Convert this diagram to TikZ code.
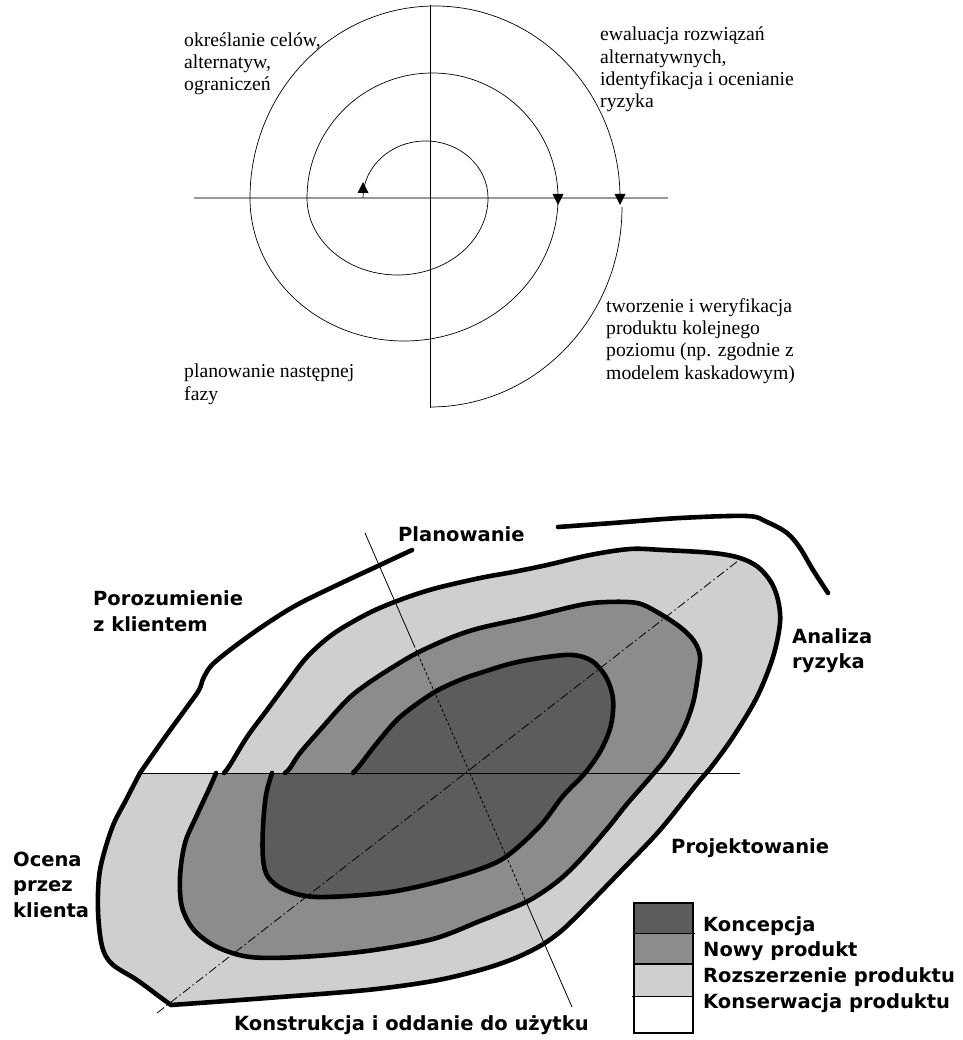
\documentclass[tikz,border=0pt]{standalone}
\usepackage{fontspec}
\setmainfont{Liberation Serif}
\newfontfamily\boldsans{DejaVu Sans Bold}
\usetikzlibrary{calc}
\definecolor{shadeLight}{gray}{0.81}
\definecolor{shadeMid}{gray}{0.55}
\definecolor{shadeDark}{gray}{0.36}
\definecolor{axisGray}{gray}{0.6}

% spiral laps of the lower figure (outer edges of the shaded bands)
\def\lapzero{plot[smooth,tension=.55] coordinates {(353,773) (360,765) (377,743) (400,717) (433,693) (460,680) (480,673) (513,663) (547,657) (573,655) (592,661) (606,677) (613,699) (611,725) (601,750) (585,773) (563,796) (540,826) (507,856) (480,869) (433,883) (383,893) (317,897) (285,890) (268,877) (263,858) (263,827) (266,795) (272,773)}}
\def\lapone{plot[smooth,tension=.55] coordinates {(285,773) (290,768) (300,753) (320,730) (347,700) (367,684) (393,667) (417,653) (450,638) (480,628) (530,617) (580,605) (607,602) (637,603) (657,612) (680,627) (694,641) (700,656) (698,675) (693,703) (683,730) (667,757) (648,780) (627,804) (607,829) (580,860) (558,881) (530,900) (500,913) (480,921) (433,939) (367,951) (300,957) (250,957) (217,947) (194,930) (182,907) (180,877) (185,843) (197,815) (210,787) (216,773)}}
\def\laptwo{plot[smooth,tension=.55] coordinates {(224,773) (230,765) (247,737) (267,710) (287,683) (307,657) (333,634) (367,614) (397,601) (433,589) (480,578) (513,572) (547,565) (590,555) (630,549) (663,550) (713,553) (740,558) (758,567) (771,582) (778,600) (780,623) (773,657) (757,697) (733,737) (712,766) (696,785) (660,830) (620,872) (580,913) (560,932) (540,946) (513,959) (480,970) (433,981) (367,990) (267,998) (171,1005)} -- plot[smooth,tension=.55] coordinates {(171,1005) (160,997) (137,980) (112,964) (102,946) (98,910) (100,870) (112,828) (126,800) (140,773)}}

% multi-line labels are placed by the baseline of their last line
\tikzset{
  serifnote/.style={anchor=base west, inner sep=0pt, align=left, font=\fontsize{19.7}{22.2}\selectfont},
  sansnote/.style={anchor=base west, inner sep=0pt, align=left, font=\boldsans\fontsize{19.5}{25.5}\selectfont},
  thinline/.style={line width=0.8pt},
  lapline/.style={line width=4.6pt, line cap=round, line join=round},
  uptip/.pic={\fill (0,-6) -- (-5.5,5) -- (5.5,5) -- cycle;},
  downtip/.pic={\fill (0,5.5) -- (-5.5,-5.5) -- (5.5,-5.5) -- cycle;},
}

\begin{document}
\begin{tikzpicture}[x=1pt,y=-1pt]
\useasboundingbox (0,0) rectangle (962,1040);

% ---------- upper figure: classic spiral ----------
\coordinate (hl) at (194,198);
\coordinate (hr) at (668,198);
\coordinate (vt) at (430,5);
\coordinate (vb) at (430,408);
\draw[axisGray, line width=1.6pt] (hl) -- (hr);
\draw[thinline] (vt) -- (vb);

\coordinate (s0) at (363,198);
\draw[line width=0.7pt] (s0)
  arc[start angle=180, end angle=360, x radius=62.5, y radius=57]
  arc[start angle=0, end angle=180, x radius=90.5, y radius=77]
  arc[start angle=180, end angle=360, x radius=125.5, y radius=125]
  arc[start angle=0, end angle=180, x radius=154, y radius=143]
  arc[start angle=180, end angle=360, x radius=185, y radius=192];
\coordinate (s1) at (622,207);
\draw[line width=0.7pt] (s1) arc[start angle=0, end angle=90, x radius=192, y radius=200];

\pic at (363,188) {uptip};
\pic at (558,199.5) {downtip};
\pic at (620,199.5) {downtip};

\node[serifnote] (cele) at (184,91) {określanie celów,\\alternatyw,\\ograniczeń};
\node[serifnote] (ewal) at (600,107.5) {ewaluacja rozwiązań\\alternatywnych,\\identyfikacja i ocenianie\\ryzyka};
\node[serifnote] (tworz) at (606,379) {tworzenie i weryfikacja\\produktu kolejnego\\poziomu (np. zgodnie z\\modelem kaskadowym)};
\node[serifnote] (plan) at (184,400) {planowanie następnej\\fazy};

% ---------- lower figure: shaded spiral ----------
\fill[shadeLight] \laptwo -- cycle;
\fill[shadeMid] \lapone -- cycle;
\fill[shadeDark] \lapzero -- cycle;

\coordinate (pa) at (365,533);
\coordinate (pb) at (572,1007);
\draw[thinline] (pa) -- ($(pa)!0.236!(pb)$) coordinate (pm1);
\draw[thinline, densely dashed] (pm1) -- ($(pa)!0.774!(pb)$) coordinate (pm2);
\draw[thinline] (pm2) -- (pb);

\coordinate (da) at (157,1013);
\coordinate (db) at (743,557);
\draw[thinline, dash pattern=on 9pt off 3pt on 1.5pt off 3pt] (da) -- (db);

\coordinate (ha) at (138,773);
\coordinate (hb) at (740,773);
\draw[thinline] (ha) -- (hb);

\draw[lapline] \lapzero;
\draw[lapline] \lapone;
\draw[lapline] \laptwo;
\draw[lapline] plot[smooth,tension=.55] coordinates {(140,773) (163,740) (187,707) (199,690) (204,677) (215,662) (253,633) (293,607) (333,587) (380,565) (412,550)};
\draw[lapline] plot[smooth,tension=.55] coordinates {(558,527) (613,523) (680,518) (747,516) (767,522) (787,533) (800,548) (813,570) (828,593)};

\node[sansnote] (planow) at (398,541) {Planowanie};
\node[sansnote] (poroz) at (93,631) {Porozumienie\\z klientem};
\node[sansnote] (anal) at (792,668.5) {Analiza\\ryzyka};
\node[sansnote] (ocena) at (13,917) {Ocena\\przez\\klienta};
\node[sansnote] (proj) at (671,853) {Projektowanie};
\node[sansnote] (konstr) at (234,1030) {Konstrukcja i oddanie do użytku};

% legend
\fill[shadeDark] (634,903) rectangle (693,933);
\fill[shadeMid] (634,933) rectangle (693,964);
\fill[shadeLight] (634,964) rectangle (693,996);
\draw[line width=1pt] (634,933) -- (695,933);
\draw[line width=1.4pt] (634,964) -- (693,964);
\draw[line width=1pt] (632,996) -- (693,996);
\draw[line width=1.4pt] (634,903) rectangle (693,1033);
\node[sansnote] (lk) at (703,931) {Koncepcja};
\node[sansnote] (ln) at (703,956) {Nowy produkt};
\node[sansnote] (lr) at (703,982) {Rozszerzenie produktu};
\node[sansnote] (lc) at (703,1008) {Konserwacja produktu};
\end{tikzpicture}
\end{document}
